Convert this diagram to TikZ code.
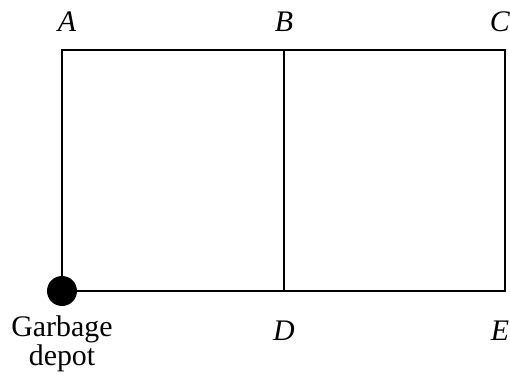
\documentclass[tikz,border=0pt]{standalone}
\usepackage{fontspec}
\setmainfont{Liberation Serif}
\usetikzlibrary{positioning}

\begin{document}
\begin{tikzpicture}[x=0.02cm,y=-0.02cm,
    every node/.style={font=\fontsize{17}{14.5}\selectfont},
    street/.style={line width=0.6pt}]
  \useasboundingbox (0,0) rectangle (510,378);
  % corners of the street grid
  \coordinate (a) at (62,50);
  \coordinate (b) at (284,50);
  \coordinate (c) at (505,50);
  \coordinate (d) at (284,291);
  \coordinate (e) at (505,291);
  \coordinate (g) at (62,291);
  \draw[street] (a) -- (c) -- (e) -- (g) -- cycle;
  \draw[street] (b) -- (d);
  \fill (g) circle (15);
  % labels
  \node (la) at (67,22) {\textit{A}};
  \node (lb) at (284,22) {\textit{B}};
  \node (lc) at (500,22) {\textit{C}};
  \node (ld) at (284,331) {\textit{D}};
  \node (le) at (500,331) {\textit{E}};
  \node[align=center] (lg) at (62,344) {Garbage\\depot};
\end{tikzpicture}
\end{document}
